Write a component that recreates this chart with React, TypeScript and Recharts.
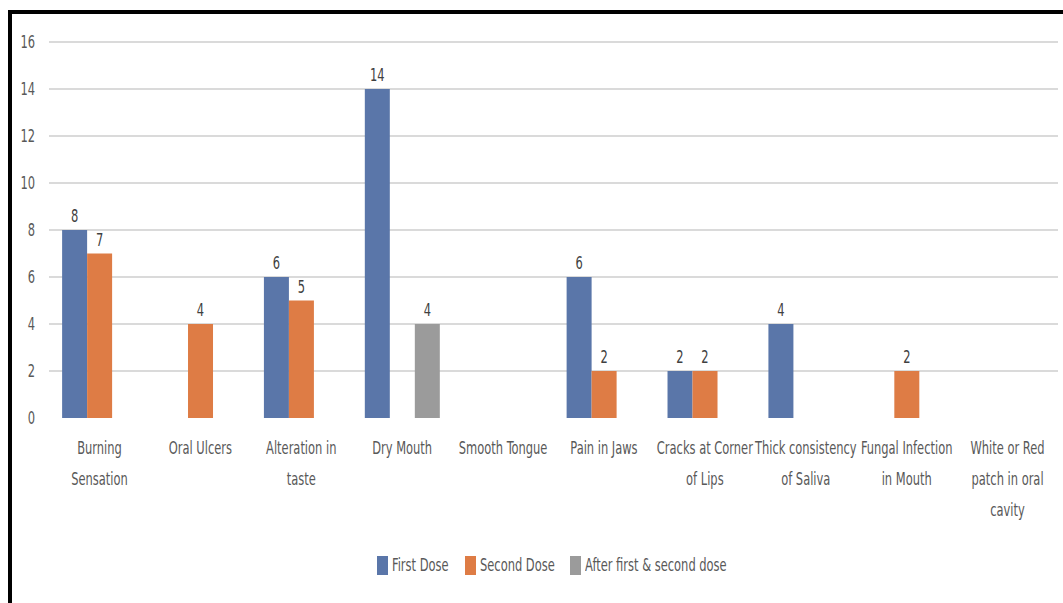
import { BarChart, Bar, XAxis, YAxis, CartesianGrid, LabelList } from 'recharts'

// category labels, broken into lines the way the original axis wraps them
const categoryLines = [
  ['Burning', 'Sensation'],
  ['Oral Ulcers'],
  ['Alteration in', 'taste'],
  ['Dry Mouth'],
  ['Smooth Tongue'],
  ['Pain in Jaws'],
  ['Cracks at Corner', 'of Lips'],
  ['Thick consistency', 'of Saliva'],
  ['Fungal Infection', 'in Mouth'],
  ['White or Red', 'patch in oral', 'cavity'],
]
const firstDose = [8, null, 6, 14, null, 6, 2, 4, null, null]
const secondDose = [7, 4, 5, null, null, 2, 2, null, 2, null]
const afterBoth = [null, null, null, 4, null, null, null, null, null, null]
const yTicks = [0, 2, 4, 6, 8, 10, 12, 14, 16]

const series = [
  { key: 'first', name: 'First Dose', color: '#5A76A9', values: firstDose },
  { key: 'second', name: 'Second Dose', color: '#DE7C45', values: secondDose },
  { key: 'after', name: 'After first & second dose', color: '#9B9B9B', values: afterBoth },
]

// the reference uses a tall, narrow face: draw condensed text squeezed horizontally
const FONT = '"DejaVu Sans Condensed", "DejaVu Sans", sans-serif'
const SIZE = 17
const SQUEEZE = 0.75
const TEXT = '#595959'

const data = categoryLines.map((lines, i) => {
  const row: Record<string, string | number | null> = { name: lines.join(' ') }
  series.forEach((s) => (row[s.key] = s.values[i]))
  return row
})

let ctx: CanvasRenderingContext2D | null = null
function measure(t: string) {
  if (!ctx) ctx = document.createElement('canvas').getContext('2d')
  if (!ctx) return t.length * 8 * SQUEEZE
  ctx.font = `${SIZE}px ${FONT}`
  return ctx.measureText(t).width * SQUEEZE
}

function Squeezed({ x, y, anchor = 'middle', fill = TEXT, children }: any) {
  return (
    <g transform={`translate(${x},${y}) scale(${SQUEEZE},1)`}>
      <text x={0} y={0} textAnchor={anchor} fill={fill} fontSize={SIZE} fontFamily={FONT}>
        {children}
      </text>
    </g>
  )
}

function CategoryTick({ x, y, index }: any) {
  const lines = categoryLines[index] ?? []
  return (
    <g>
      {lines.map((l, i) => (
        <Squeezed key={i} x={x} y={y + 28 + i * 31}>
          {l}
        </Squeezed>
      ))}
    </g>
  )
}

function ValueTick({ x, y, payload }: any) {
  return (
    <Squeezed x={x} y={y + 6} anchor="end">
      {payload.value}
    </Squeezed>
  )
}

function BarValue({ x, y, width, value }: any) {
  if (value == null) return null
  return (
    <Squeezed x={x + width / 2} y={y - 8} fill="#404040">
      {value}
    </Squeezed>
  )
}

export default function App() {
  return (
    <div style={{ position: 'fixed', left: 0, top: 0, width: 1063, height: 603, overflow: 'hidden', background: '#fff' }}>
      <div
        style={{
          position: 'absolute',
          left: 8,
          top: 10,
          width: 1100,
          height: 640,
          border: '4px solid #000',
          boxSizing: 'border-box',
        }}
      />
      <div style={{ position: 'absolute', left: 0, top: 0 }}>
        <BarChart
          width={1063}
          height={603}
          data={data}
          margin={{ top: 42, right: 5, left: 0, bottom: 65 }}
          barCategoryGap="13%"
          barGap={0}
        >
          <CartesianGrid vertical={false} stroke="#DADADA" strokeWidth={2} horizontalValues={[2, 4, 6, 8, 10, 12, 14, 16]} />
          <XAxis dataKey="name" axisLine={false} tickLine={false} interval={0} height={120} tick={<CategoryTick />} />
          <YAxis
            width={49}
            domain={[0, 16]}
            ticks={yTicks}
            axisLine={false}
            tickLine={false}
            tickMargin={8}
            tick={<ValueTick />}
          />
          {series.map((s) => (
            <Bar key={s.key} dataKey={s.key} name={s.name} fill={s.color} isAnimationActive={false}>
              <LabelList dataKey={s.key} content={<BarValue />} />
            </Bar>
          ))}
        </BarChart>
      </div>
      <div
        style={{
          position: 'absolute',
          left: 0,
          top: 555,
          width: 1104,
          display: 'flex',
          justifyContent: 'center',
          gap: 16,
          fontFamily: FONT,
          fontSize: SIZE,
          color: TEXT,
          lineHeight: '20px',
        }}
      >
        {series.map((s) => (
          <div key={s.key} style={{ display: 'flex', alignItems: 'center', gap: 4 }}>
            <span style={{ display: 'inline-block', width: 11, height: 19, background: s.color }} />
            <span style={{ display: 'inline-block', width: measure(s.name), whiteSpace: 'nowrap' }}>
              <span style={{ display: 'inline-block', transform: `scaleX(${SQUEEZE})`, transformOrigin: 'left center' }}>
                {s.name}
              </span>
            </span>
          </div>
        ))}
      </div>
    </div>
  )
}
